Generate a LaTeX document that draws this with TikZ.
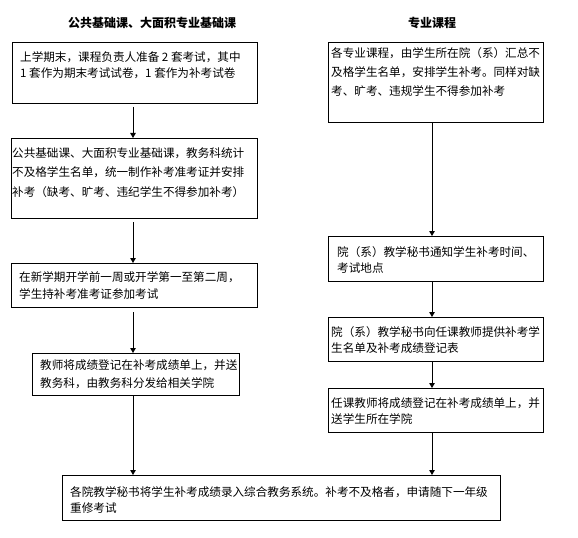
\documentclass[tikz,border=0pt]{standalone}
\usepackage{fontspec}
\setmainfont{Noto Sans CJK SC}
\usetikzlibrary{arrows.meta,calc}
\begin{document}
\begin{tikzpicture}[x=1bp,y=-1bp,
  box/.style={draw=black,line width=1bp,anchor=north west,inner sep=0pt,fill=white},
  txt/.style={anchor=west,inner sep=0pt,align=left},
  ttl/.style={inner sep=0pt,font={\fontsize{12bp}{14bp}\selectfont\bfseries}},
  arr/.style={line width=1bp,-{Triangle[width=5.5bp,length=5bp]}}]
\fill[white] (0,0) rectangle (578,538);
\useasboundingbox (0,0) rectangle (578,538);
% titles
\node[ttl] (tl) at (152,23) {公共基础课、大面积专业基础课};
\node[ttl] (tr) at (432,23) {专业课程};
% left boxes
\node[box,minimum width=245bp,minimum height=61bp] (b1) at (12,42) {};
\node[txt,font={\fontsize{11.6bp}{16bp}\selectfont}] (b1t) at (20,65) {上学期末，课程负责人准备 2 套考试，其中\\1 套作为期末考试试卷，1 套作为补考试卷};
\node[box,minimum width=246bp,minimum height=80bp] (b2) at (11,138) {};
\node[txt,font={\fontsize{11.6bp}{19.5bp}\selectfont}] (b2t) at (12,172.5) {公共基础课、大面积专业基础课，教务科统计\\不及格学生名单，统一制作补考准考证并安排\\补考（缺考、旷考、违纪学生不得参加补考）};
\node[box,minimum width=246bp,minimum height=44bp] (b3) at (11,263) {};
\node[txt,font={\fontsize{11.6bp}{17bp}\selectfont}] (b3t) at (19,285.5) {在新学期开学前一周或开学第一至第二周，\\学生持补考准考证参加考试};
\node[box,minimum width=207bp,minimum height=42bp] (b4) at (32,353) {};
\node[txt,font={\fontsize{11.6bp}{18bp}\selectfont}] (b4t) at (40,374) {教师将成绩登记在补考成绩单上，并送\\教务科，由教务科分发给相关学院};
% right boxes
\node[box,minimum width=215bp,minimum height=80bp] (r1) at (328,42) {};
\node[txt,font={\fontsize{11.6bp}{19bp}\selectfont}] (r1t) at (331,72) {各专业课程，由学生所在院（系）汇总不\\及格学生名单，安排学生补考。同样对缺\\考、旷考、违规学生不得参加补考};
\node[box,minimum width=215bp,minimum height=45bp] (r2) at (328,236) {};
\node[txt,font={\fontsize{11.6bp}{16bp}\selectfont}] (r2t) at (337,260) {院（系）教学秘书通知学生补考时间、\\考试地点};
\node[box,minimum width=215bp,minimum height=44bp] (r3) at (328,317) {};
\node[txt,font={\fontsize{11.6bp}{16bp}\selectfont}] (r3t) at (331,340) {院（系）教学秘书向任课教师提供补考学\\生名单及补考成绩登记表};
\node[box,minimum width=215bp,minimum height=44bp] (r4) at (328,388) {};
\node[txt,font={\fontsize{11.6bp}{16bp}\selectfont}] (r4t) at (331,411) {任课教师将成绩登记在补考成绩单上，并\\送学生所在学院};
% bottom box
\node[box,minimum width=438bp,minimum height=45bp] (b5) at (62,475) {};
\node[txt,font={\fontsize{11.6bp}{16bp}\selectfont}] (b5t) at (70,500) {各院教学秘书将学生补考成绩录入综合教务系统。补考不及格者，申请随下一年级\\重修考试};
% arrow columns
\coordinate (lx) at (133,0);
\coordinate (rx) at (432,0);
\draw[arr,shorten <=3bp] (b1.south -| lx) -- (b2.north -| lx);
\draw[arr,shorten <=3bp] (b2.south -| lx) -- (b3.north -| lx);
\draw[arr,shorten <=4bp] (b3.south -| lx) -- (b4.north -| lx);
\draw[arr] (b4.south -| lx) -- (b5.north -| lx);
\draw[arr] (r1.south -| rx) -- (r2.north -| rx);
\draw[arr] (r2.south -| rx) -- (r3.north -| rx);
\draw[arr] (r3.south -| rx) -- (r4.north -| rx);
\draw[arr] (r4.south -| rx) -- (b5.north -| rx);
\end{tikzpicture}
\end{document}
